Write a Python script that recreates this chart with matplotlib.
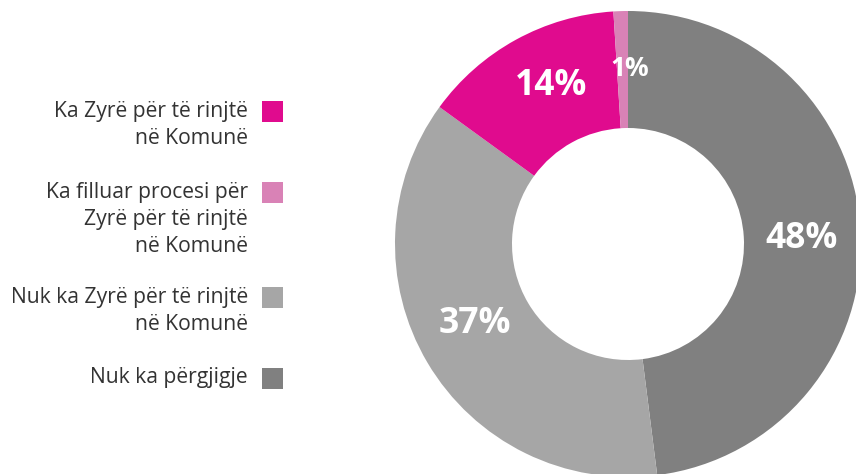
import matplotlib
matplotlib.use("Agg")
import matplotlib.pyplot as plt
import numpy as np
from matplotlib.patches import Rectangle

plt.rcParams["font.family"] = ["Open Sans", "DejaVu Sans"]

# kategoritë dhe vlerat (%), renditja në drejtim të akrepave nga lart
categories = [
    "Nuk ka përgjigje",
    "Nuk ka Zyrë për të rinjtë\nnë Komunë",
    "Ka Zyrë për të rinjtë\nnë Komunë",
    "Ka filluar procesi për\nZyrë për të rinjtë\nnë Komunë",
]
values = [48, 37, 14, 1]
colors = ["#808080", "#a6a6a6", "#e00b8e", "#d982b6"]

# renditja e legjendës (lart -> poshtë)
legend_order = [2, 3, 1, 0]

W, H = 856, 474
fig = plt.figure(figsize=(W / 100, H / 100), dpi=100)
ax = fig.add_axes([0, 0, 1, 1])

cx, cy, r_out, r_in = 628, H - 244, 233, 116
ax.pie(
    values, colors=colors, startangle=90, counterclock=False,
    center=(cx, cy), radius=r_out, wedgeprops=dict(width=r_out - r_in, linewidth=0),
    frame=True,
)
ax.set_xlim(0, W)
ax.set_ylim(0, H)
ax.set_aspect("equal")
ax.axis("off")

# etiketat e përqindjeve në mes të unazës (pak të zhvendosura në drejtim të akrepave)
cum = np.cumsum([0] + values)
for i, v in enumerate(values):
    theta = np.deg2rad((cum[i] + v / 2) / sum(values) * 360 + 2.5)  # nga lart, në drejtim të akrepave
    rl = 174
    ax.text(cx + rl * np.sin(theta), cy + rl * np.cos(theta) + 2, f"{v}%",
            ha="center", va="center", color="white", fontweight="bold",
            fontsize=19 if v < 5 else 25.5)

# legjenda
sq_centers = [111, 192, 297, 378]
for idx, yc in zip(legend_order, sq_centers):
    ax.add_patch(Rectangle((262, H - yc - 10.5), 21, 21, color=colors[idx], lw=0))
    for k, line in enumerate(categories[idx].split("\n")):
        ax.text(248, H - yc - k * 27, line, ha="right", va="center",
                fontsize=15.2, color="#333333")

fig.savefig("out.png", dpi=100)
